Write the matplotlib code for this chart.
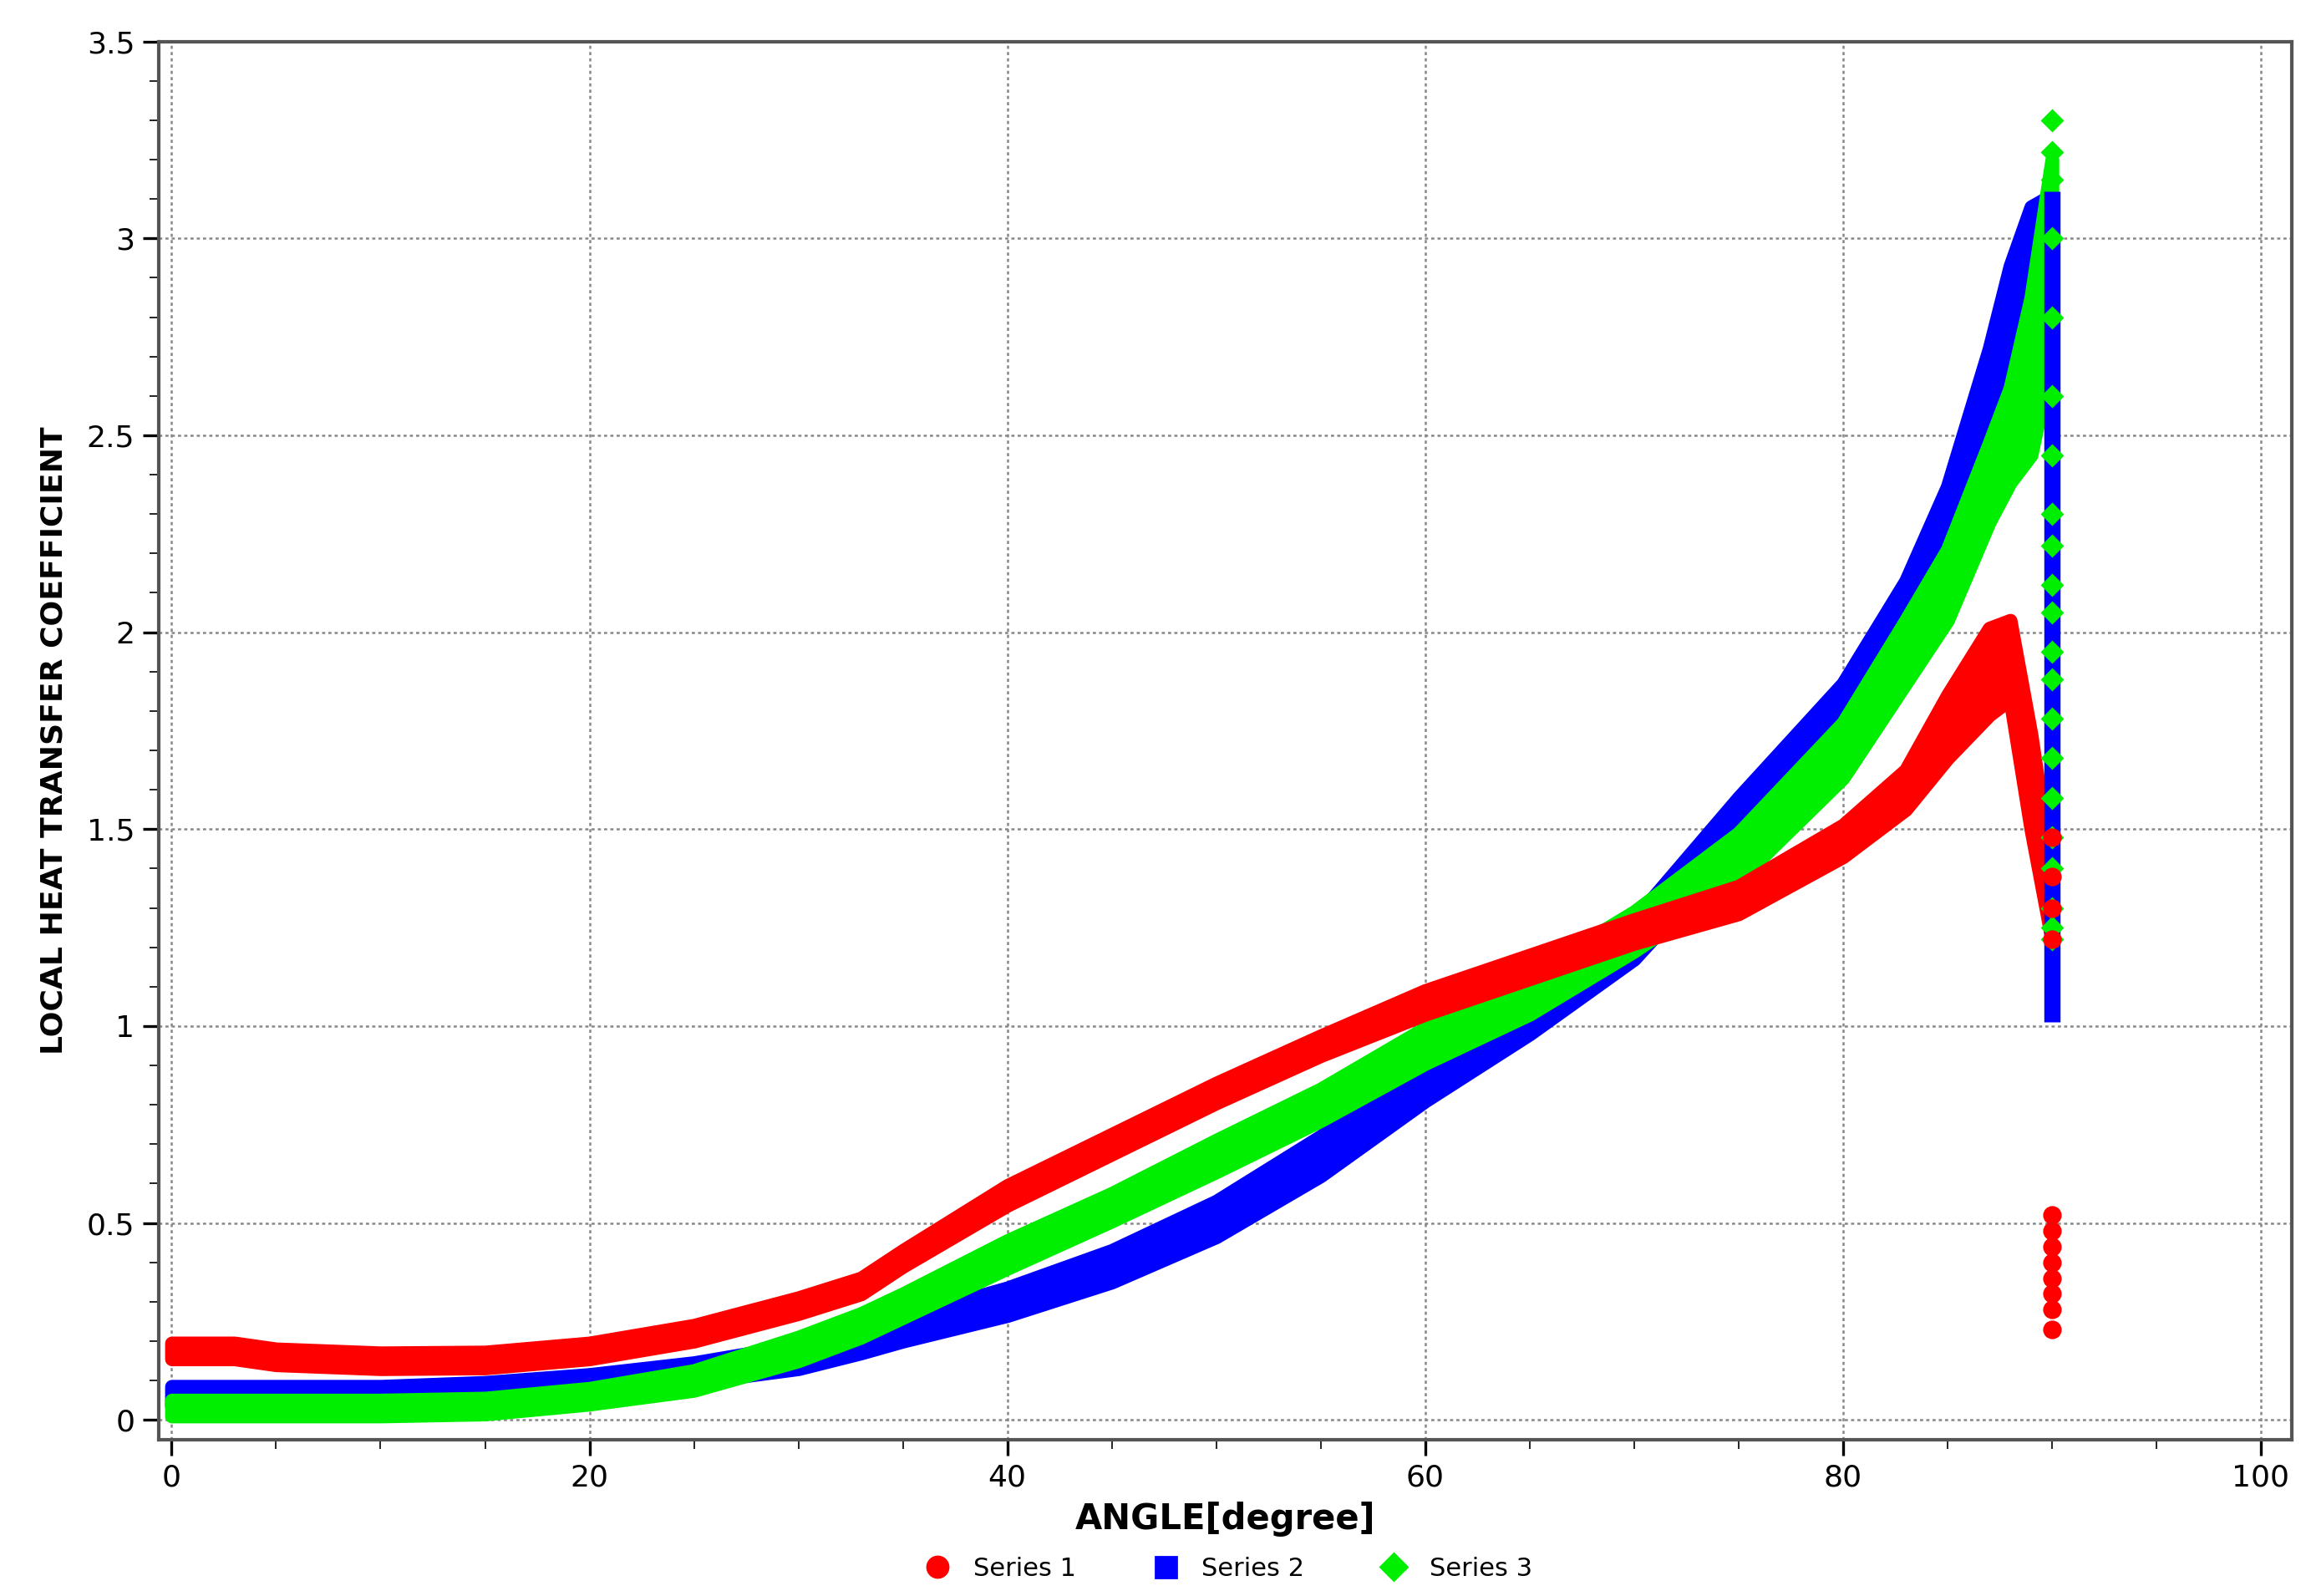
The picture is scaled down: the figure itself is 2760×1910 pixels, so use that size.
import numpy as np
import matplotlib.pyplot as plt

# values (centre line and band half-width)
angle = [0, 3, 5, 10, 15, 20, 25, 30, 33, 35, 40, 45, 50, 55, 60, 65, 70, 75, 80, 83, 85, 87, 88, 89, 90]

s1_mid = [0.175, 0.175, 0.16, 0.15, 0.152, 0.175, 0.22, 0.29, 0.34, 0.41, 0.57, 0.70, 0.83, 0.95, 1.06, 1.15, 1.24, 1.32, 1.47, 1.60, 1.76, 1.90, 1.93, 1.62, 1.30]
s1_half = [0.02, 0.02, 0.02, 0.02, 0.02, 0.02, 0.02, 0.02, 0.02, 0.02, 0.025, 0.025, 0.025, 0.025, 0.03, 0.03, 0.03, 0.035, 0.04, 0.05, 0.08, 0.11, 0.10, 0.12, 0.08]

s2_mid = [0.06, 0.06, 0.06, 0.06, 0.07, 0.09, 0.12, 0.16, 0.20, 0.23, 0.30, 0.39, 0.51, 0.67, 0.86, 1.03, 1.22, 1.52, 1.80, 2.05, 2.28, 2.62, 2.83, 2.98, 3.05]
s2_half = [0.025, 0.025, 0.025, 0.025, 0.025, 0.025, 0.025, 0.03, 0.03, 0.03, 0.035, 0.04, 0.045, 0.05, 0.05, 0.05, 0.05, 0.06, 0.07, 0.08, 0.09, 0.10, 0.10, 0.10, 0.06]

s3_mid = [0.03, 0.03, 0.03, 0.03, 0.035, 0.06, 0.10, 0.18, 0.24, 0.29, 0.42, 0.54, 0.67, 0.80, 0.95, 1.08, 1.24, 1.43, 1.70, 1.95, 2.12, 2.38, 2.50, 2.65, 2.95]
s3_half = [0.02, 0.02, 0.02, 0.02, 0.02, 0.02, 0.025, 0.03, 0.03, 0.03, 0.035, 0.035, 0.04, 0.04, 0.045, 0.05, 0.05, 0.06, 0.07, 0.08, 0.09, 0.10, 0.12, 0.20, 0.25]

# scattered points at the 90 degree edge
s1_edge = [0.23, 0.28, 0.32, 0.36, 0.40, 0.44, 0.48, 0.52, 1.22, 1.30, 1.38, 1.48]
s2_edge_lo, s2_edge_hi = 1.01, 3.12
s3_edge = [1.22, 1.25, 1.30, 1.40, 1.48, 1.58, 1.68, 1.78, 1.88, 1.95, 2.05, 2.12, 2.22, 2.30, 2.45, 2.60, 2.80, 3.00, 3.15, 3.22, 3.30]

red, blue, green = '#ff0000', '#0000ff', '#00ee00'

fig = plt.figure(figsize=(13.8, 9.55), dpi=200)
ax = fig.add_axes([0.069, 0.098, 0.925, 0.876])

a = np.array(angle)
for mid, half, col in [(s2_mid, s2_half, blue), (s3_mid, s3_half, green), (s1_mid, s1_half, red)]:
    m, h = np.array(mid), np.array(half)
    ax.fill_between(a, m - h, m + h, color=col, lw=6, edgecolor=col, zorder=3)

ax.plot([90, 90], [s2_edge_lo, s2_edge_hi], color=blue, lw=7, solid_capstyle='butt', zorder=3)
ax.plot([90] * len(s3_edge), s3_edge, 'D', color=green, ms=6, zorder=4)
ax.plot([90] * len(s1_edge), s1_edge, 'o', color=red, ms=7, zorder=4)

ax.set_xlim(-0.6, 101.5)
ax.set_ylim(-0.05, 3.5)
ax.set_xticks(np.arange(0, 101, 20))
ax.set_xticks(np.arange(0, 101, 5), minor=True)
ax.set_yticks(np.arange(0, 3.51, 0.5))
ax.set_yticklabels(['0', '0.5', '1', '1.5', '2', '2.5', '3', '3.5'])
ax.set_yticks(np.arange(0, 3.51, 0.1), minor=True)
ax.grid(True, which='major', ls=(0, (1.5, 1.5)), color='#888888', lw=0.9)
ax.tick_params(labelsize=13, direction='out', length=7, width=1.2)
ax.tick_params(which='minor', length=4)
for s in ax.spines.values():
    s.set_color('#555555')
    s.set_linewidth(1.5)

ax.set_xlabel('ANGLE[degree]', fontsize=15, fontweight='bold', labelpad=4)
ax.set_ylabel('LOCAL HEAT TRANSFER COEFFICIENT', fontsize=13, fontweight='bold', labelpad=8)

handles = [plt.Line2D([], [], ls='', marker='o', color=red, ms=9),
           plt.Line2D([], [], ls='', marker='s', color=blue, ms=9),
           plt.Line2D([], [], ls='', marker='D', color=green, ms=8)]
fig.legend(handles, ['Series 1', 'Series 2', 'Series 3'], loc='lower center', ncol=3,
           frameon=False, fontsize=11, bbox_to_anchor=(0.53, -0.005), handletextpad=0.4, columnspacing=2.5)

fig.savefig('out.png', dpi=200)
